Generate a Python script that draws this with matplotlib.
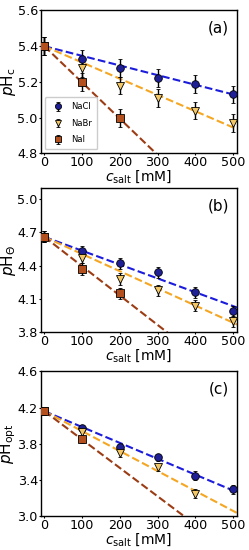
import matplotlib
matplotlib.use("Agg")
import matplotlib.pyplot as plt
import numpy as np

# salt concentrations [mM]
conc = [0, 100, 200, 300, 400, 500]
salts = ["NaCl", "NaBr", "NaI"]

# panel (a): pH_c
phc_nacl = [5.40, 5.33, 5.28, 5.22, 5.19, 5.13]
phc_nabr = [5.40, 5.28, 5.18, 5.11, 5.04, 4.97]
phc_nai = [5.40, 5.20, 5.00]
phc_err = [0.05, 0.05, 0.05, 0.05, 0.05, 0.05]
phc_slope = [-0.00054, -0.00091, -0.00203]

# panel (b): pH_Theta
pht_nacl = [4.66, 4.53, 4.42, 4.34, 4.16, 3.99]
pht_nabr = [4.66, 4.47, 4.28, 4.18, 4.04, 3.90]
pht_nai = [4.66, 4.37, 4.15]
pht_err = [0.05, 0.05, 0.05, 0.05, 0.05, 0.05]
pht_slope = [-0.00125, -0.00155, -0.00265]

# panel (c): pH_opt
pho_nacl = [4.16, 3.97, 3.76, 3.65, 3.45, 3.30]
pho_nabr = [4.16, 3.93, 3.70, 3.54, 3.25]
pho_nai = [4.16, 3.85]
pho_err = [0.04, 0.04, 0.04, 0.04, 0.05, 0.05]
pho_slope = [-0.00175, -0.0022, -0.00313]

line_colors = ["#1c1cdc", "#f5a623", "#9c3c14"]
face_colors = ["#1f1f96", "#f3c766", "#b4501e"]
markers = ["o", "v", "s"]

panels = [
    ("(a)", r"$p$H$_\mathrm{c}$", [phc_nacl, phc_nabr, phc_nai], phc_err, phc_slope,
     (4.8, 5.6), [4.8, 5.0, 5.2, 5.4, 5.6], [0.721, 0.26]),
    ("(b)", r"$p$H$_\Theta$", [pht_nacl, pht_nabr, pht_nai], pht_err, pht_slope,
     (3.8, 5.1), [3.8, 4.1, 4.4, 4.7, 5.0], [0.396, 0.262]),
    ("(c)", r"$p$H$_\mathrm{opt}$", [pho_nacl, pho_nabr, pho_nai], pho_err, pho_slope,
     (3.0, 4.6), [3.0, 3.4, 3.8, 4.2, 4.6], [0.061, 0.264]),
]

fig = plt.figure(figsize=(2.49, 5.5), dpi=100)
xfit = np.array([0, 510])

for tag, ylabel, series, err, slopes, ylim, yticks, (y0, h) in panels:
    ax = fig.add_axes([0.163, y0, 0.789, h])
    for i, vals in enumerate(series):
        x = conc[:len(vals)]
        ax.plot(xfit, vals[0] + slopes[i] * xfit, "--", color=line_colors[i], lw=1.5, zorder=2)
        ax.errorbar(x, vals, yerr=err[:len(vals)], fmt=markers[i], ms=5.5,
                    mfc=face_colors[i], mec="black", mew=0.6, ecolor="black",
                    elinewidth=1.0, capsize=1.5, label=salts[i], zorder=3)
    ax.set_xlim(-10, 510)
    ax.set_ylim(*ylim)
    ax.set_yticks(yticks)
    ax.set_xticks([0, 100, 200, 300, 400, 500])
    ax.tick_params(labelsize=9.2, length=1.5, pad=0.5)
    ax.set_ylabel(ylabel, fontsize=11)
    ax.yaxis.set_label_coords(-0.115, 0.5)
    ax.set_xlabel(r"$c_\mathrm{salt}$ [mM]", fontsize=10)
    ax.xaxis.set_label_coords(0.5, -0.105)
    ax.text(0.96, 0.93, tag, transform=ax.transAxes, ha="right", va="top", fontsize=11)
    for sp in ax.spines.values():
        sp.set_linewidth(1.0)
    if tag == "(a)":
        ax.legend(loc="lower left", fontsize=6, handletextpad=0.6, borderpad=0.6,
                  labelspacing=0.9, framealpha=1.0, edgecolor="#cccccc", markerscale=0.8)

fig.savefig("out.png", dpi=100)
